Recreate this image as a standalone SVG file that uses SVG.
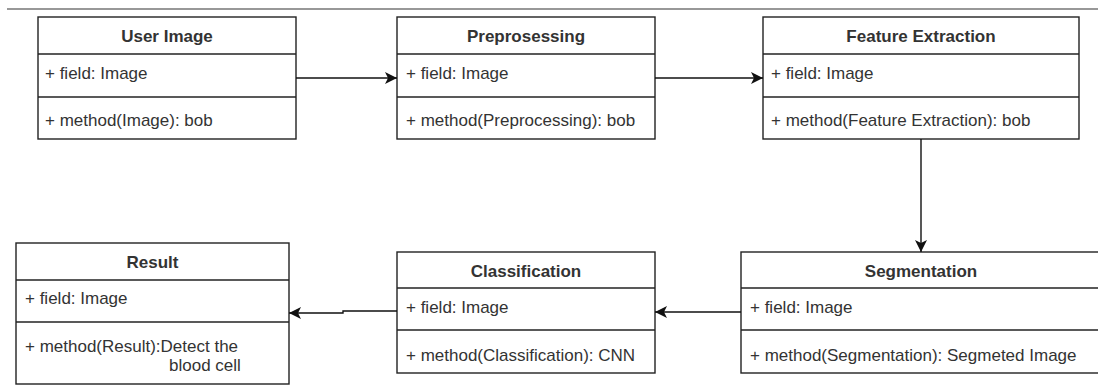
<svg xmlns="http://www.w3.org/2000/svg" width="1098" height="389" viewBox="0 0 1098 389">
<defs>
<style>
.box{fill:#fff;stroke:#222;stroke-width:1.4}
.div{stroke:#222;stroke-width:1.4;fill:none}
.t{font-family:"Liberation Sans",Arial,sans-serif;font-size:17px;fill:#333}
.h{font-weight:bold;text-anchor:middle}
.c{stroke:#111;stroke-width:1.4;fill:none;marker-end:url(#arr)}
</style>
<marker id="arr" viewBox="0 0 12 12" refX="12" refY="6" markerWidth="12" markerHeight="12" orient="auto" markerUnits="userSpaceOnUse">
<path d="M0,0 L12,6 L0,12 L3,6 Z" fill="#111"/>
</marker>
</defs>
<rect width="1098" height="389" fill="#fff"/>
<line x1="7" y1="9" x2="1098" y2="9" stroke="#333" stroke-width="1.2"/>

<g id="user-image">
<rect class="box" x="38" y="17" width="258" height="122"/>
<line class="div" x1="38" y1="54" x2="296" y2="54"/>
<line class="div" x1="38" y1="97" x2="296" y2="97"/>
<text class="t h" x="167" y="42">User Image</text>
<text class="t" x="45" y="79">+ field: Image</text>
<text class="t" x="45" y="126">+ method(Image): bob</text>
</g>

<g id="preprocessing">
<rect class="box" x="397" y="17" width="258" height="122"/>
<line class="div" x1="397" y1="54" x2="655" y2="54"/>
<line class="div" x1="397" y1="97" x2="655" y2="97"/>
<text class="t h" x="526" y="42">Preprosessing</text>
<text class="t" x="406" y="79">+ field: Image</text>
<text class="t" x="406" y="126">+ method(Preprocessing): bob</text>
</g>

<g id="feature-extraction">
<rect class="box" x="763" y="17" width="316" height="122"/>
<line class="div" x1="763" y1="54" x2="1079" y2="54"/>
<line class="div" x1="763" y1="97" x2="1079" y2="97"/>
<text class="t h" x="921" y="42">Feature Extraction</text>
<text class="t" x="771" y="79">+ field: Image</text>
<text class="t" x="771" y="126">+ method(Feature Extraction): bob</text>
</g>

<g id="result">
<rect class="box" x="16" y="243" width="273" height="141"/>
<line class="div" x1="16" y1="280" x2="289" y2="280"/>
<line class="div" x1="16" y1="322" x2="289" y2="322"/>
<text class="t h" x="152.5" y="268">Result</text>
<text class="t" x="25" y="304">+ field: Image</text>
<text class="t" x="25" y="352">+ method(Result):Detect the</text>
<text class="t" x="169" y="371">blood cell</text>
</g>

<g id="classification">
<rect class="box" x="397" y="252" width="258" height="121"/>
<line class="div" x1="397" y1="288" x2="655" y2="288"/>
<line class="div" x1="397" y1="330" x2="655" y2="330"/>
<text class="t h" x="526" y="277">Classification</text>
<text class="t" x="406" y="313">+ field: Image</text>
<text class="t" x="406" y="361">+ method(Classification): CNN</text>
</g>

<g id="segmentation">
<rect class="box" x="741" y="252" width="360" height="121"/>
<line class="div" x1="741" y1="288" x2="1101" y2="288"/>
<line class="div" x1="741" y1="330" x2="1101" y2="330"/>
<text class="t h" x="921" y="277">Segmentation</text>
<text class="t" x="750" y="313">+ field: Image</text>
<text class="t" x="750" y="361">+ method(Segmentation): Segmeted Image</text>
</g>

<g id="connectors">
<path class="c" d="M296,78 H397"/>
<path class="c" d="M655,78 H763"/>
<path class="c" d="M921,139 V252"/>
<path class="c" d="M741,312 H655"/>
<path class="c" d="M397,311 H343 V313 H289"/>
</g>
</svg>
